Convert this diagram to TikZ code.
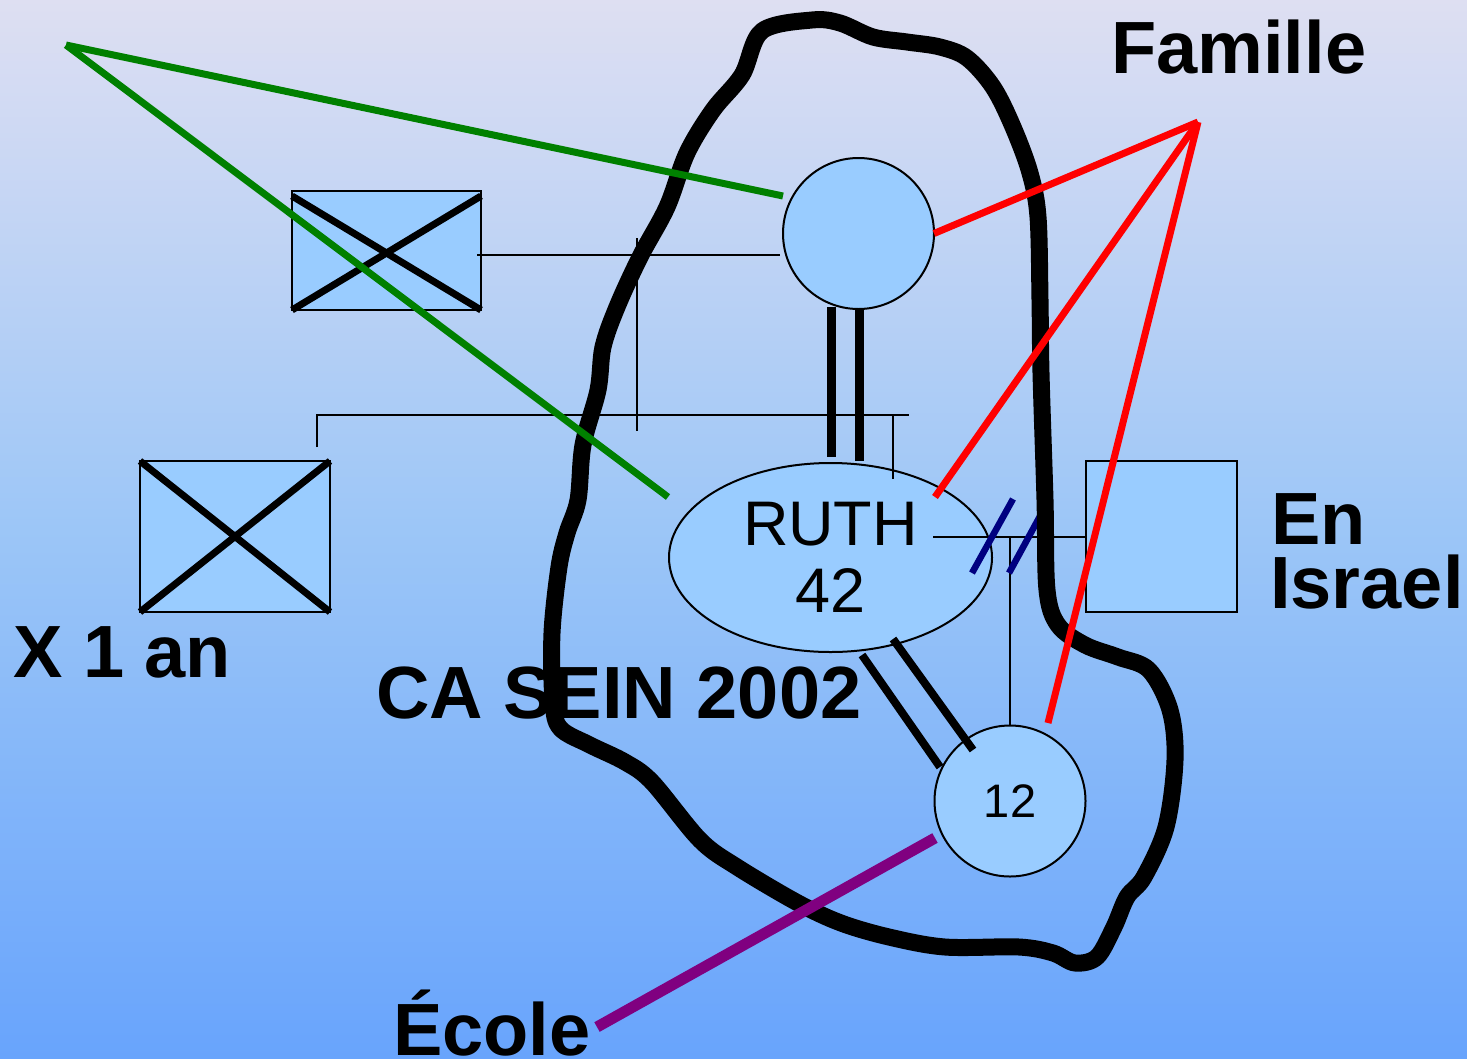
\documentclass[tikz,border=0pt]{standalone}
\usepackage{fontspec}
\setmainfont{Liberation Sans}
\usetikzlibrary{shapes.geometric,calc}

\definecolor{bgtop}{HTML}{DEDFF2}
\definecolor{bgmid}{HTML}{9CC6F7}
\definecolor{bgbot}{HTML}{68A4FC}
\definecolor{nodefill}{HTML}{99CCFF}
\definecolor{famred}{HTML}{FF0000}
\definecolor{leafgreen}{HTML}{008000}
\definecolor{schoolpurple}{HTML}{800080}
\definecolor{cutnavy}{HTML}{000080}

\begin{document}
\begin{tikzpicture}[x=1pt,y=-1pt,
  person/.style={draw=black, line width=2pt, fill=nodefill, inner sep=0pt, outer sep=0pt},
  male/.style={person, rectangle},
  female/.style={person, circle, minimum size=151pt},
  kin/.style={line width=1.6pt},
  tie/.style={line width=9pt},
  tieb/.style={line width=8pt},
  deceased/.style={line width=7pt},
  cutmark/.style={cutnavy, line width=6.5pt},
  boundary/.style={line width=17pt, line join=round},
  boldlabel/.style={font=\fontsize{74}{64}\selectfont\bfseries, inner sep=0pt, anchor=base west},
  greenlink/.style={leafgreen, line width=7pt},
  redlink/.style={famred, line width=7pt},
  purplelink/.style={schoolpurple, line width=11pt}
]
% background
\shade[top color=bgtop, bottom color=bgbot, middle color=bgmid] (0,0) rectangle (1467,1058);
\useasboundingbox (0,0) rectangle (1467,1058);

% people
\node[male, minimum width=189pt, minimum height=119pt] (grandpa) at (386.5,250.5) {};
\node[male, minimum width=190pt, minimum height=151pt] (brother) at (235,536.5) {};
\node[male, minimum size=151pt] (partner) at (1161.5,536.5) {};
\node[female] (grandma) at (858.5,233.5) {};
\node[person, ellipse, minimum width=323pt, minimum height=189pt, align=center,
      font=\fontsize{63}{67}\selectfont] (ruth) at (830.5,557.5) {RUTH\\42};
\node[female, font=\fontsize{47}{50}\selectfont] (child) at (1010,801) {12};

% deceased crosses
\draw[deceased] ([yshift=-5pt]grandpa.north west) -- (grandpa.south east);
\draw[deceased] (grandpa.south west) -- ([yshift=-5pt]grandpa.north east);
\draw[deceased] (brother.north west) -- (brother.south east);
\draw[deceased] (brother.south west) -- (brother.north east);

% kinship lines
\coordinate (sibL) at (317,447);
\coordinate (sibR) at (909,415);
\coordinate (sibDrop) at (893,415);
\coordinate (descTop) at (637,238);
\coordinate (descBot) at (637,431);
\draw[kin] (sibL) |- (sibR);
\draw[kin] (sibDrop) -- ($(ruth.center)+(62.5,-78.5)$);
\draw[kin] (descTop) -- (descBot);
\draw[kin] ($(grandpa.east)+(-4,4.5)$) -- ($(grandma.west)+(-3,21.5)$);
\coordinate (ruthline) at ($(ruth.center)+(102.5,-20.5)$);
\draw[kin] (ruthline) -- (ruthline -| partner.west);
\draw[kin] (ruthline -| child.north) -- (child.north);

% close ties
\draw[tie] ($(grandma.south)+(-27.5,-2)$) -- ($(ruth.north)+(0.5,-6)$);
\draw[tie] ($(grandma.south)+(0.5,0)$) -- ($(ruth.north)+(28.5,-2)$);
\draw[tieb] ($(ruth.center)+(31.5,97.5)$) -- ($(child.center)+(-70,-34)$);
\draw[tieb] ($(ruth.center)+(62.5,81.5)$) -- ($(child.center)+(-37,-51)$);

% separation marks
\draw[cutmark] (972,573) -- (1013,499);
\draw[cutmark] (1009,573) -- (1045,507);

% labels
\node[boldlabel] (famille) at (1111,73) {Famille};
\node[boldlabel] (en) at (1271,544) {En};
\node[boldlabel] (israel) at (1270,608) {Israel};
\node[boldlabel] (xan) at (13,677) {X 1 an};
\node[boldlabel] (casein) at (376,718) {CA SEIN 2002};
\node[boldlabel] (ecole) at (393,1055) {École};

% household boundary
\draw[boundary] plot[smooth cycle, tension=0.55] coordinates {
  (762,31) (812,20) (840,23) (873,37) (907,42) (940,47) (967,58) (993,87)
  (1013,127) (1030,173) (1038,217) (1040,300) (1041,373) (1045,500)
  (1047,590) (1058,625) (1085,645) (1118,657) (1149,670) (1170,710)
  (1175,760) (1166,827) (1144,877) (1127,897) (1114,927) (1097,957)
  (1075,963) (1053,953) (1019,947) (945,947) (889,937) (841,923)
  (798,903) (737,867) (700,840) (652,782) (625,762) (590,745) (560,728)
  (553,700) (552,633) (559,567) (567,533) (578,500) (583,445) (598,390)
  (603,347) (617,307) (640,257) (667,207) (687,153) (713,110) (742,75)};

% outside links
\coordinate (greenHub) at (66,45);
\draw[greenlink] (greenHub) -- ($(grandma.center)+(-75.5,-37.5)$);
\draw[greenlink] (greenHub) -- ($(ruth.center)+(-162.5,-60.5)$);
\coordinate (famHub) at (1198,122);
\draw[redlink] (famHub) -- (grandma.east);
\draw[redlink] (famHub) -- ($(ruth.center)+(104.5,-60.5)$);
\draw[redlink] (famHub) -- ($(child.center)+(38,-78)$);
\coordinate (ecoleEnd) at (597,1027);
\draw[purplelink] ($(child.center)+(-75,37)$) -- (ecoleEnd);
\end{tikzpicture}
\end{document}
